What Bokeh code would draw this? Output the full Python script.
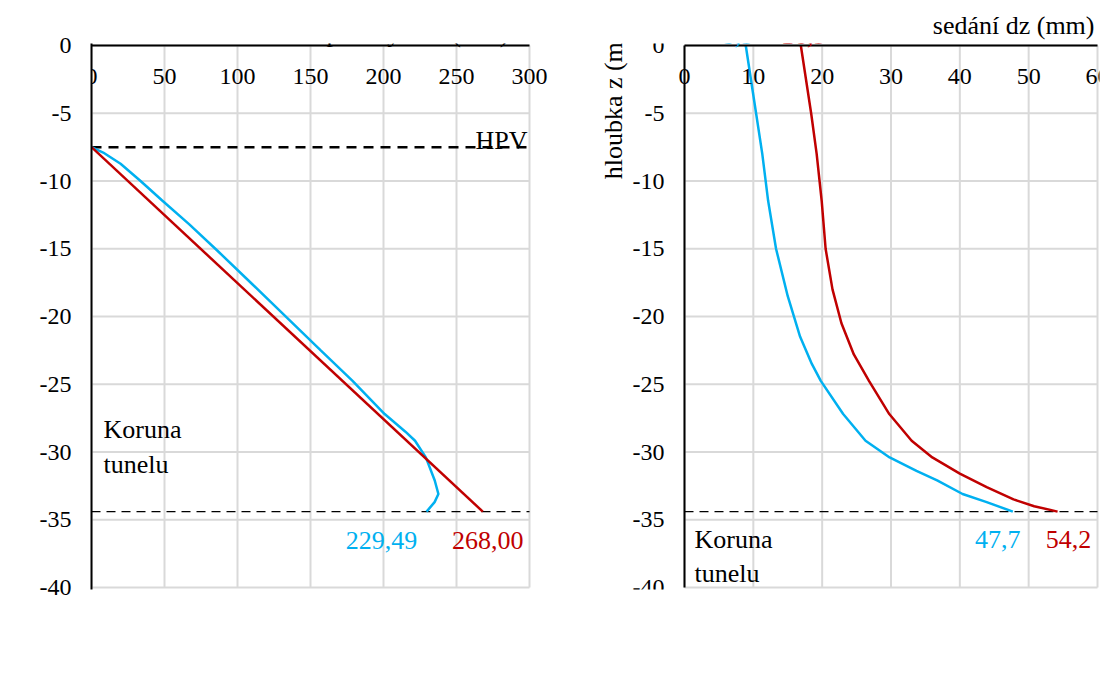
from bokeh.plotting import figure
from bokeh.models import Range1d, FixedTicker, Label, LabelSet, Legend, LegendItem, ColumnDataSource
from bokeh.embed import file_html
from bokeh.resources import INLINE

FONT = "Liberation Serif"
RED = "#C00000"
BLUE = "#00B0F0"
GRID = "#D9D9D9"

# ---------------- data ----------------
depth_ticks = [0, -5, -10, -15, -20, -25, -30, -35, -40]
pressure_ticks = [0, 50, 100, 150, 200, 250, 300]
settle_ticks = [0, 10, 20, 30, 40, 50, 60]

hpv_level = -7.5        # groundwater level (HPV)
crown_level = -34.4     # tunnel crown

# (a) pore pressure (kPa) vs depth (m)
pressure_drained = [0.0, 268.00]
depth_p_drained = [-7.5, -34.4]
pressure_undrained = [0.0, 8.0, 19.9, 33.6, 48.4, 67.0, 86.1, 110.0, 134.0, 157.0,
                      178.8, 200.8, 215.0, 221.6, 229.0, 235.1, 237.6, 235.0, 229.49]
depth_p_undrained = [-7.5, -7.9, -8.73, -10.0, -11.44, -13.2, -15.13, -17.6, -20.1, -22.5,
                     -24.75, -27.2, -28.5, -29.17, -30.4, -32.1, -33.1, -33.7, -34.4]

# (b) settlement dz (mm) vs depth (m)
settle_drained = [16.9, 18.4, 19.2, 19.93, 20.5, 21.5, 22.8, 24.6, 26.8, 29.75,
                  33.0, 36.0, 40.0, 43.9, 47.8, 50.8, 54.2]
depth_s_drained = [0.0, -5.0, -8.0, -11.46, -15.0, -18.0, -20.5, -22.8, -24.75, -27.2,
                   -29.17, -30.4, -31.6, -32.6, -33.5, -34.0, -34.4]
settle_undrained = [8.9, 10.4, 11.3, 12.15, 13.3, 15.0, 16.8, 18.5, 19.8, 23.05,
                    26.3, 29.8, 33.7, 36.7, 40.4, 43.9, 47.7]
depth_s_undrained = [0.0, -5.0, -8.0, -11.46, -15.0, -18.5, -21.5, -23.5, -24.75, -27.2,
                     -29.17, -30.4, -31.4, -32.1, -33.1, -33.7, -34.4]

series_names = ["Odvodněné", "Neodvodněné"]

# ---------------- layout (pixels) ----------------
W, H = 1110, 664
PAD = 2                      # frame extends 2px beyond the panel edges so edge lines are not clipped
A_LEFT, A_W = 91, 438        # panel (a) plot area
B_LEFT, B_W = 684, 413       # panel (b) plot area
TOP, PLOT_H = 45, 542
FRAME_L = A_LEFT
FRAME_R = B_LEFT + B_W + PAD
FRAME_W = FRAME_R - FRAME_L

a_scale = A_W / pressure_ticks[-1]
b_scale = B_W / settle_ticks[-1]
y_scale = PLOT_H / 40.0

x_a = Range1d(0, FRAME_W / a_scale)
b_start = -(B_LEFT - FRAME_L) / b_scale
x_b = Range1d(b_start, b_start + FRAME_W / b_scale)
y_rng = Range1d(-40 - PAD / y_scale, 0 + PAD / y_scale)


def fmt(v, nd):
    return f"{v:.{nd}f}".replace(".", ",")


p = figure(width=W, height=H, x_range=x_a, y_range=y_rng,
           title="sedání dz (mm)",
           x_axis_location=None, y_axis_location="left",
           output_backend="svg", toolbar_location=None,
           min_border_left=FRAME_L, min_border_right=W - FRAME_R,
           min_border_top=TOP - PAD, min_border_bottom=H - (TOP + PLOT_H + PAD))
p.extra_x_ranges = {"b": x_b}
p.outline_line_color = None
p.background_fill_color = "white"
p.border_fill_color = "white"
p.grid.visible = False

# panel (b) axis title, right-aligned above the frame
p.title.align = "right"
p.title.offset = 5
p.title.standoff = 7
p.title.text_font = FONT
p.title.text_font_size = "26px"
p.title.text_font_style = "normal"
p.title.text_color = "black"

yax = p.yaxis[0]
yax.ticker = FixedTicker(ticks=depth_ticks)
yax.major_label_overrides = {t: str(t) for t in depth_ticks}
yax.major_label_standoff = 20
yax.axis_line_color = "black"
yax.axis_line_width = 2
yax.major_tick_out = 0
yax.major_tick_in = 0
yax.minor_tick_out = 0
yax.minor_tick_in = 0
yax.major_label_text_font = FONT
yax.major_label_text_font_size = "24px"
yax.major_label_text_color = "black"


def panel_grid(xticks, rname):
    kw = {} if rname is None else {"x_range_name": rname}
    n = len(xticks)
    m = len(depth_ticks)
    p.segment(x0=xticks, x1=xticks, y0=[depth_ticks[-1]] * n, y1=[depth_ticks[0]] * n,
              line_color=GRID, line_width=2, **kw)
    p.segment(x0=[xticks[0]] * m, x1=[xticks[-1]] * m, y0=depth_ticks, y1=depth_ticks,
              line_color=GRID, line_width=2, **kw)


def tick_labels(xticks, rname):
    kw = {} if rname is None else {"x_range_name": rname}
    src = ColumnDataSource(dict(x=xticks, y=[depth_ticks[0]] * len(xticks),
                                t=[str(t) for t in xticks]))
    p.add_layout(LabelSet(x="x", y="y", text="t", source=src, y_offset=-38,
                          text_align="center", text_baseline="alphabetic",
                          text_font=FONT, text_font_size="24px", text_color="black", **kw))


def add_text(x, y, text, color="black", xo=0, yo=0, align="left",
             baseline="alphabetic", angle=0.0, size="26px", rname=None):
    kw = {} if rname is None else {"x_range_name": rname}
    p.add_layout(Label(x=x, y=y, text=text, x_offset=xo, y_offset=yo,
                       text_align=align, text_baseline=baseline, angle=angle,
                       text_font=FONT, text_font_size=size, text_color=color, **kw))


# ---------------- panel (a) ----------------
panel_grid(pressure_ticks, None)
p.segment(x0=[0], x1=[pressure_ticks[-1]], y0=[hpv_level], y1=[hpv_level],
          line_color="black", line_width=2.5, line_dash="10 7")
p.segment(x0=[0], x1=[pressure_ticks[-1]], y0=[crown_level], y1=[crown_level],
          line_color="black", line_width=1.3, line_dash="9 6")
p.line(pressure_undrained, depth_p_undrained, line_color=BLUE, line_width=2.5)
p.line(pressure_drained, depth_p_drained, line_color=RED, line_width=2.5)
p.segment(x0=[0], x1=[pressure_ticks[-1]], y0=[0], y1=[0], line_color="black", line_width=2)
tick_labels(pressure_ticks, None)

add_text(pressure_ticks[-1], 0, "pórový tlak (kPa)", xo=-21, yo=12, align="right")
add_text(0, 0, "hloubka z (m)", xo=-66, yo=12, align="right", baseline="middle",
         angle=1.5707963267948966)
add_text(pressure_ticks[-1], hpv_level, "HPV", xo=-2, yo=7, align="right")
add_text(0, crown_level, "Koruna\ntunelu", xo=12, yo=33, baseline="bottom")
add_text(pressure_undrained[-1], depth_p_undrained[-1], fmt(pressure_undrained[-1], 2),
         color=BLUE, xo=-45, yo=-29, align="center")
add_text(pressure_drained[-1], depth_p_drained[-1], fmt(pressure_drained[-1], 2),
         color=RED, xo=5, yo=-29, align="center")
add_text(pressure_ticks[-1] / 2, depth_ticks[-1], "(a)", xo=4, yo=-65, align="center",
         baseline="middle")

# ---------------- panel (b) ----------------
panel_grid(settle_ticks, "b")
p.segment(x0=[0], x1=[settle_ticks[-1]], y0=[crown_level], y1=[crown_level],
          line_color="black", line_width=1.3, line_dash="9 6", x_range_name="b")
rd = p.line(settle_drained, depth_s_drained, line_color=RED, line_width=2.5, x_range_name="b")
ru = p.line(settle_undrained, depth_s_undrained, line_color=BLUE, line_width=2.5,
            x_range_name="b")
p.segment(x0=[0, 0], x1=[settle_ticks[-1], 0], y0=[0, 0], y1=[0, depth_ticks[-1]],
          line_color="black", line_width=2, x_range_name="b")
tick_labels(settle_ticks, "b")
ysrc = ColumnDataSource(dict(x=[0] * len(depth_ticks), y=depth_ticks,
                             t=[str(t) for t in depth_ticks]))
p.add_layout(LabelSet(x="x", y="y", text="t", source=ysrc, x_offset=-20,
                      text_align="right", text_baseline="middle", x_range_name="b",
                      text_font=FONT, text_font_size="24px", text_color="black"))

add_text(0, 0, "hloubka z (m)", xo=-71, yo=12, align="right", baseline="middle",
         angle=1.5707963267948966, rname="b")
add_text(0, crown_level, "Koruna\ntunelu", xo=10, yo=-13, baseline="top", rname="b")
add_text(settle_undrained[0], depth_s_undrained[0], fmt(settle_undrained[0], 1),
         color=BLUE, xo=-8, yo=10, align="center", rname="b")
add_text(settle_drained[0], depth_s_drained[0], fmt(settle_drained[0], 1),
         color=RED, xo=3, yo=10, align="center", rname="b")
add_text(settle_undrained[-1], depth_s_undrained[-1], fmt(settle_undrained[-1], 1),
         color=BLUE, xo=-15, yo=-28, align="center", rname="b")
add_text(settle_drained[-1], depth_s_drained[-1], fmt(settle_drained[-1], 1),
         color=RED, xo=11, yo=-28, align="center", rname="b")
add_text(settle_ticks[-1] / 2, depth_ticks[-1], "(b)", xo=-26, yo=-65, align="center",
         baseline="middle", rname="b")

# legend just below the frame, under panel (b) (kept in the center panel, offset in pixels)
legend = Legend(items=[LegendItem(label=series_names[0], renderers=[rd]),
                       LegendItem(label=series_names[1], renderers=[ru])],
                location=(880 - FRAME_L, -58), orientation="vertical",
                glyph_width=68, glyph_height=28, label_height=28,
                label_standoff=7, padding=0, spacing=0, margin=0,
                label_text_font=FONT, label_text_font_size="26px",
                label_text_color="black",
                border_line_color=None, background_fill_alpha=0)
p.add_layout(legend)

open("out.html", "w").write(file_html(p, INLINE))
